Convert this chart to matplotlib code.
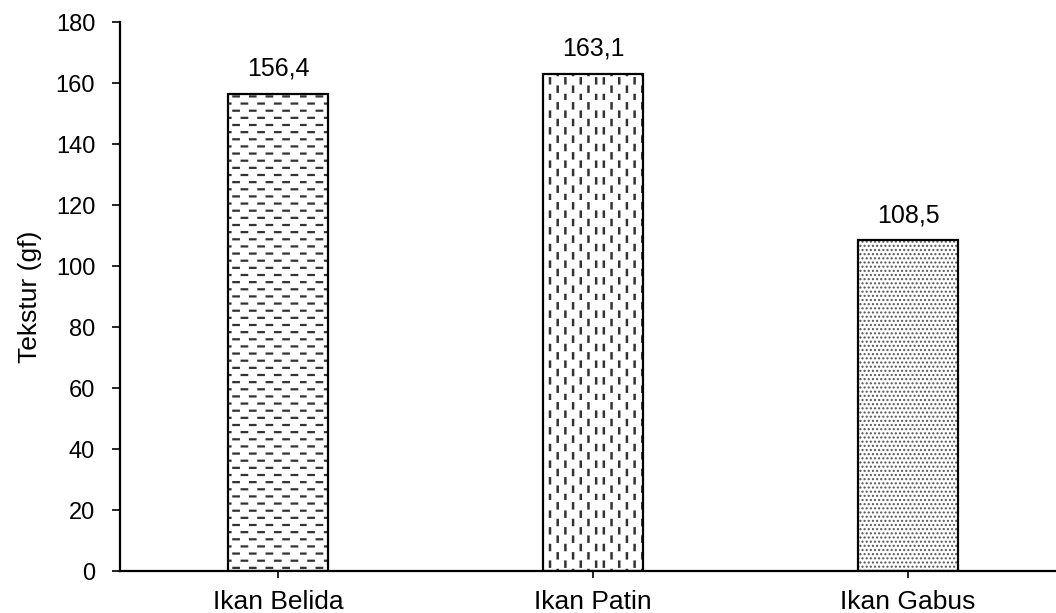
import numpy as np
import matplotlib
matplotlib.use('Agg')
import matplotlib.pyplot as plt
from matplotlib import hatch as mhatch
from matplotlib.path import Path

categories = ['Ikan Belida', 'Ikan Patin', 'Ikan Gabus']
values = [156.4, 163.1, 108.5]
value_labels = ['156,4', '163,1', '108,5']
hatches = ['-', '|', '....']
hatch_colors = ['#333333', '#333333', '#555555']
hatch_widths = [1.6, 1.8, 1.0]


# Dashed hatches (staggered short dashes) in place of the solid line hatches.
class DashHorizontal(mhatch.HatchPatternBase):
    def __init__(self, hatch, density):
        n = hatch.count('-')
        self.rows = 14 * n
        self.cols = 6 * n
        self.num_vertices = self.rows * self.cols * 2 if n else 0

    def set_vertices_and_codes(self, vertices, codes):
        dash = 0.055
        k = 0
        for r in range(self.rows):
            y = (r + 0.5) / self.rows
            off = 0.5 / self.cols if r % 2 else 0.0
            for c in range(self.cols):
                x = c / self.cols + off
                vertices[k] = (x, y)
                vertices[k + 1] = (x + dash, y)
                codes[k] = Path.MOVETO
                codes[k + 1] = Path.LINETO
                k += 2


class DashVertical(mhatch.HatchPatternBase):
    def __init__(self, hatch, density):
        n = hatch.count('|')
        self.cols = 13 * n
        self.rows = 6 * n
        self.num_vertices = self.rows * self.cols * 2 if n else 0

    def set_vertices_and_codes(self, vertices, codes):
        dash = 0.05
        k = 0
        for c in range(self.cols):
            x = (c + 0.5) / self.cols
            off = 0.5 / self.rows if c % 2 else 0.0
            for r in range(self.rows):
                y = r / self.rows + off
                vertices[k] = (x, y)
                vertices[k + 1] = (x, y + dash)
                codes[k] = Path.MOVETO
                codes[k + 1] = Path.LINETO
                k += 2


mhatch._hatch_types = [DashHorizontal if t is mhatch.HorizontalHatch else
                       DashVertical if t is mhatch.VerticalHatch else t
                       for t in mhatch._hatch_types]

plt.rcParams['font.family'] = ['Liberation Sans', 'DejaVu Sans']

fig = plt.figure(figsize=(10.56, 6.13), dpi=100)
ax = fig.add_axes([0.1136, 0.0685, 0.8864, 0.8956])

x = np.arange(len(categories))
for xi, v, h, hc, hw in zip(x, values, hatches, hatch_colors, hatch_widths):
    with plt.rc_context({'hatch.linewidth': hw, 'hatch.color': hc}):
        b = ax.bar(xi, v, width=0.32, color='white', edgecolor='black',
                   linewidth=1.6, hatch=h, zorder=2)[0]
    b._hatch_color = matplotlib.colors.to_rgba(hc)
    if hasattr(b, 'set_hatch_linewidth'):
        b.set_hatch_linewidth(hw)

for xi, v, lab in zip(x, values, value_labels):
    ax.text(xi, v + 5.9, lab, ha='center', va='baseline', fontsize=18)

ax.set_xlim(-0.502, 2.47)
ax.set_ylim(0, 180)
ax.set_yticks(range(0, 181, 20))
ax.set_xticks(x)
ax.set_xticklabels(categories)
ax.set_ylabel('Tekstur (gf)', fontsize=19)
ax.yaxis.set_label_coords(-0.083, 0.5)
ax.tick_params(axis='y', labelsize=17, direction='out', length=5.8, width=1.2, pad=12)
ax.tick_params(axis='x', labelsize=19, direction='out', length=5, width=1.2, pad=8.5)

ax.spines['top'].set_visible(False)
ax.spines['right'].set_visible(False)
ax.spines['left'].set_linewidth(1.6)
ax.spines['bottom'].set_linewidth(1.6)

fig.savefig('out.png', dpi=100)
